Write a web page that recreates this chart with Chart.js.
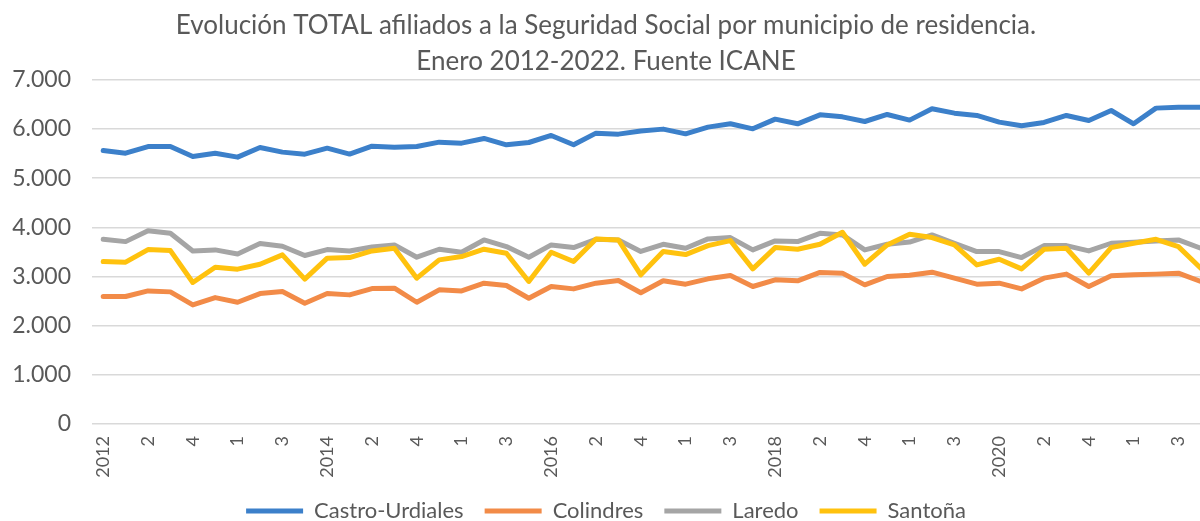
<!DOCTYPE html>
<html>
<head>
<meta charset="utf-8">
<script src="https://cdn.jsdelivr.net/npm/chart.js@4.4.1/dist/chart.umd.min.js"></script>
<style>
html, body { margin: 0; padding: 0; overflow: hidden; background: #fff; }
#wrap { position: absolute; left: 0; top: 0; width: 1230px; height: 532px; }
</style>
</head>
<body>
<div id="wrap"><canvas id="LineChart"></canvas></div>
<script>
// categories: each year followed by its quarters
const labels = [
    '2012', '1', '2', '3', '4',
    '2013', '1', '2', '3', '4',
    '2014', '1', '2', '3', '4',
    '2015', '1', '2', '3', '4',
    '2016', '1', '2', '3', '4',
    '2017', '1', '2', '3', '4',
    '2018', '1', '2', '3', '4',
    '2019', '1', '2', '3', '4',
    '2020', '1', '2', '3', '4',
    '2021', '1', '2', '3', '4'
];

const castro = [5562, 5508, 5643, 5643, 5440, 5508, 5427, 5623, 5529, 5488,
    5610, 5490, 5650, 5630, 5643, 5732, 5712, 5807, 5678, 5725,
    5868, 5678, 5915, 5895, 5960, 5997, 5901, 6037, 6105, 6003,
    6200, 6105, 6288, 6247, 6152, 6295, 6180, 6410, 6322, 6275,
    6139, 6064, 6132, 6275, 6173, 6376, 6105, 6424, 6444, 6444];
const colindres = [2592, 2592, 2707, 2687, 2422, 2571, 2476, 2653, 2694, 2456,
    2653, 2626, 2755, 2762, 2476, 2728, 2707, 2864, 2816, 2558,
    2796, 2748, 2864, 2918, 2670, 2912, 2844, 2952, 3020, 2796,
    2932, 2912, 3082, 3068, 2830, 3000, 3024, 3088, 2966, 2844,
    2864, 2748, 2966, 3048, 2796, 3014, 3034, 3048, 3068, 2898];
const laredo = [3757, 3709, 3932, 3878, 3520, 3541, 3459, 3669, 3615, 3426,
    3547, 3520, 3601, 3642, 3392, 3554, 3493, 3743, 3608, 3392,
    3642, 3588, 3757, 3743, 3510, 3655, 3574, 3764, 3791, 3541,
    3723, 3709, 3878, 3845, 3541, 3655, 3700, 3845, 3676, 3507,
    3507, 3385, 3628, 3628, 3520, 3676, 3696, 3723, 3743, 3574];
const santona = [3304, 3291, 3547, 3527, 2878, 3189, 3149, 3250, 3439, 2946,
    3372, 3385, 3520, 3574, 2966, 3338, 3405, 3554, 3473, 2899,
    3493, 3304, 3764, 3743, 3034, 3507, 3446, 3628, 3730, 3155,
    3588, 3554, 3655, 3899, 3250, 3642, 3858, 3791, 3642, 3236,
    3351, 3155, 3554, 3574, 3068, 3588, 3676, 3757, 3608, 3169];

const y_ticks = [0, 1000, 2000, 3000, 4000, 5000, 6000, 7000];

const TEXT = '#595959';
const FONT = 'Lato, "Open Sans", sans-serif';

function line(label, data, color, order) {
    return {
        label: label,
        data: data,
        borderColor: color,
        backgroundColor: color,
        borderWidth: 5,
        borderCapStyle: 'round',
        borderJoinStyle: 'round',
        pointRadius: 0,
        fill: false,
        tension: 0,
        order: order
    };
}

const CANVAS = document.getElementById('LineChart');
const chart = new Chart(CANVAS, {
    type: 'line',
    data: {
        labels: labels,
        datasets: [
            line('Castro-Urdiales', castro, '#3C80CA', 4),
            line('Colindres', colindres, '#F28B48', 3),
            line('Laredo', laredo, '#A5A5A5', 2),
            line('Santoña', santona, '#FFC20E', 1)
        ]
    },
    options: {
        responsive: true,
        maintainAspectRatio: false,
        animation: false,
        layout: { padding: { left: 0, right: 18, top: 0, bottom: 0 } },
        plugins: {
            title: {
                display: true,
                text: ['Evolución TOTAL afiliados a la Seguridad Social por municipio de residencia.',
                       'Enero 2012-2022. Fuente ICANE'],
                color: TEXT,
                font: { family: FONT, size: 26, weight: 'normal', lineHeight: 1.4 },
                padding: { top: 7, bottom: 0 }
            },
            legend: {
                position: 'bottom',
                labels: {
                    usePointStyle: true,
                    pointStyle: 'line',
                    pointStyleWidth: 57,
                    color: TEXT,
                    font: { family: FONT, size: 22 },
                    padding: 21,
                    sort: (a, b) => a.datasetIndex - b.datasetIndex
                }
            },
            tooltip: { enabled: false }
        },
        scales: {
            x: {
                offset: true,
                grid: { display: false },
                border: { display: false },
                ticks: {
                    autoSkip: false,
                    maxRotation: 90,
                    minRotation: 90,
                    padding: 4,
                    color: TEXT,
                    font: { family: FONT, size: 18 },
                    callback: function (v, i) { return i % 2 === 0 ? this.getLabelForValue(v) : ''; }
                },
                afterFit: (s) => { s.height = 55; }
            },
            y: {
                min: 0,
                max: 7000,
                afterBuildTicks: (s) => { s.ticks = y_ticks.map(v => ({ value: v })); },
                ticks: {
                    padding: 21,
                    color: TEXT,
                    font: { family: FONT, size: 23 },
                    callback: (v) => String(v).replace(/\B(?=(\d{3})+(?!\d))/g, '.')
                },
                grid: { color: '#D9D9D9', lineWidth: 1.5, drawTicks: false },
                border: { display: false },
                afterFit: (s) => { s.width = 92; }
            }
        }
    }
});
</script>
</body>
</html>
